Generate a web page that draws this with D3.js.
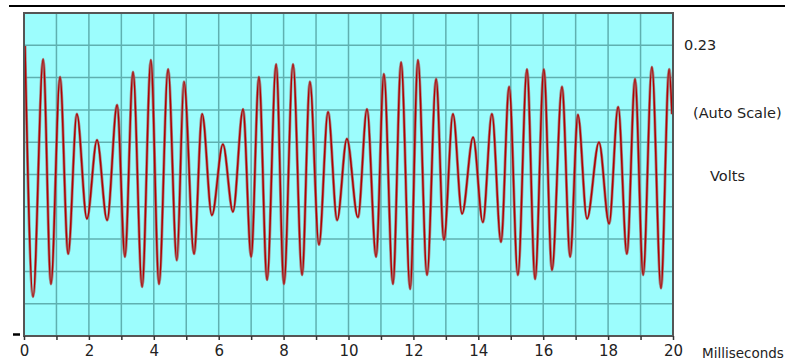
<!DOCTYPE html>
<html>
<head>
<meta charset="utf-8">
<script src="https://cdn.jsdelivr.net/npm/d3@7"></script>
<style>
  body { margin: 0; background: #fff; }
  svg { display: block; font-family: "DejaVu Sans", sans-serif; }
</style>
</head>
<body>
<div id="chart"></div>
<script>
// extrema of the trace (ms, volts)
const timeMs = [0.03, 0.28, 0.59, 0.83, 1.11, 1.36, 1.63, 1.94, 2.25, 2.56,
  2.87, 3.11, 3.36, 3.64, 3.91, 4.16, 4.44, 4.71, 4.93, 5.24,
  5.49, 5.79, 6.13, 6.44, 6.75, 7.00, 7.24, 7.49, 7.77, 8.01,
  8.29, 8.57, 8.81, 9.09, 9.37, 9.65, 9.95, 10.29, 10.57, 10.85,
  11.09, 11.37, 11.62, 11.90, 12.14, 12.42, 12.70, 12.94, 13.22, 13.50,
  13.84, 14.14, 14.42, 14.70, 14.95, 15.22, 15.50, 15.75, 16.02, 16.27,
  16.58, 16.83, 17.07, 17.35, 17.72, 18.03, 18.31, 18.58, 18.83, 19.08,
  19.35, 19.63, 19.88, 19.97];
const volts = [0.183, -0.174, 0.164, -0.156, 0.139, -0.113, 0.086, -0.063, 0.049, -0.065,
  0.099, -0.117, 0.146, -0.160, 0.163, -0.156, 0.150, -0.122, 0.132, -0.113,
  0.086, -0.058, 0.043, -0.053, 0.093, -0.117, 0.139, -0.150, 0.157, -0.156,
  0.157, -0.143, 0.132, -0.100, 0.089, -0.065, 0.051, -0.061, 0.093, -0.117,
  0.143, -0.156, 0.160, -0.163, 0.163, -0.143, 0.136, -0.093, 0.086, -0.056,
  0.053, -0.068, 0.086, -0.096, 0.125, -0.143, 0.150, -0.149, 0.150, -0.136,
  0.125, -0.117, 0.085, -0.063, 0.046, -0.070, 0.096, -0.113, 0.136, -0.143,
  0.153, -0.162, 0.150, 0.086];
const xTickLabels = [0, 2, 4, 6, 8, 10, 12, 14, 16, 18, 20];
const vMax = 0.23;

const W = 785, H = 360;
const pLeft = 24, pTop = 13, pRight = 673, pBottom = 336;

const svg = d3.select("#chart").append("svg")
  .attr("width", W).attr("height", H);

const x = d3.scaleLinear().domain([0, 20]).range([pLeft, pRight]);
const y = d3.scaleLinear().domain([-vMax, vMax]).range([pBottom, pTop]);

// rule across the top
svg.append("line")
  .attr("x1", 9).attr("x2", W).attr("y1", 6).attr("y2", 6)
  .attr("stroke", "#000").attr("stroke-width", 2);

// plot background
svg.append("rect")
  .attr("x", pLeft).attr("y", pTop)
  .attr("width", pRight - pLeft).attr("height", pBottom - pTop)
  .attr("fill", "#9cfdfd");

// grid
const g = svg.append("g").attr("stroke", "#5fb0b0").attr("stroke-width", 1.5);
g.selectAll(".vg").data(d3.range(1, 20)).enter().append("line")
  .attr("x1", d => x(d)).attr("x2", d => x(d))
  .attr("y1", pTop).attr("y2", pBottom);
const yGrid = d3.range(1, 10).map(i => -vMax + i * (2 * vMax / 10));
g.selectAll(".hg").data(yGrid).enter().append("line")
  .attr("x1", pLeft).attr("x2", pRight)
  .attr("y1", d => y(d)).attr("y2", d => y(d));

// trace
const data = timeMs.map((t, i) => ({ t: t, v: volts[i] }));
const line = d3.line().x(d => x(d.t)).y(d => y(d.v)).curve(d3.curveMonotoneX);
svg.append("path").datum(data)
  .attr("d", line).attr("fill", "none")
  .attr("stroke", "#a06a6a").attr("stroke-width", 3).attr("stroke-opacity", 0.8);
svg.append("path").datum(data)
  .attr("d", line).attr("fill", "none")
  .attr("stroke", "#b00000").attr("stroke-width", 1.5);

// frame
svg.append("rect")
  .attr("x", pLeft).attr("y", pTop)
  .attr("width", pRight - pLeft).attr("height", pBottom - pTop)
  .attr("fill", "none").attr("stroke", "#555").attr("stroke-width", 2);

// x axis
const xAxis = d3.axisBottom(x).tickValues(d3.range(0, 21)).tickSize(4)
  .tickFormat(d => xTickLabels.includes(d) ? d : "");
const ax = svg.append("g").attr("transform", `translate(0,${pBottom})`).call(xAxis);
ax.select(".domain").remove();
ax.selectAll(".tick line").attr("stroke", "#333").attr("stroke-width", 1.5);
ax.selectAll(".tick text")
  .attr("y", 9).attr("fill", "#222")
  .style("font-size", "15px").style("font-family", "DejaVu Sans, sans-serif");

// small mark at bottom left
svg.append("line")
  .attr("x1", 13).attr("x2", 20).attr("y1", y(-vMax) - 1.5).attr("y2", y(-vMax) - 1.5)
  .attr("stroke", "#000").attr("stroke-width", 2.5);

// right side labels
const lab = svg.append("g").attr("fill", "#222").style("font-size", "14.5px");
lab.append("text").attr("x", 684).attr("y", 50).text(vMax.toFixed(2));
lab.append("text").attr("x", 693).attr("y", 118).text("(Auto Scale)");
lab.append("text").attr("x", 710).attr("y", 181).text("Volts");
lab.append("text").attr("x", 702).attr("y", 358).style("font-size", "13.5px").text("Milliseconds");
</script>
</body>
</html>
